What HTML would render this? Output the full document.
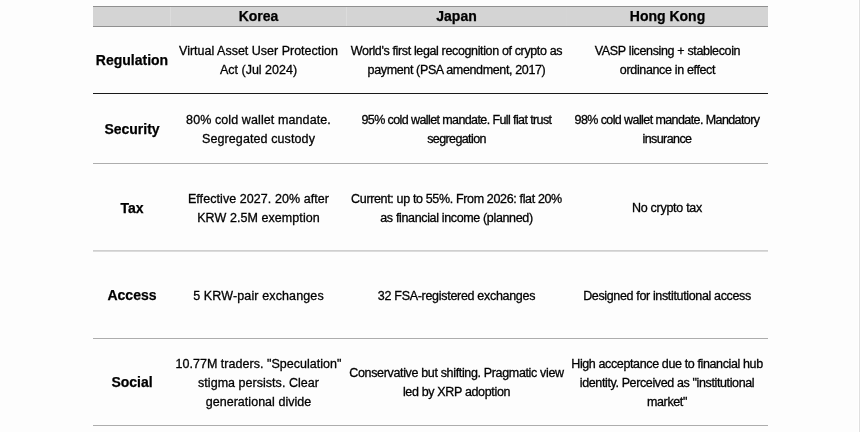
<!DOCTYPE html>
<html>
<head>
<meta charset="utf-8">
<title>Comparison</title>
<style>
html,body{margin:0;padding:0;}
body{width:860px;height:432px;background:#fdfdfd;overflow:hidden;position:relative;font-family:"Liberation Sans",Arial,Helvetica,sans-serif;color:#000;}
.edge{position:absolute;left:858px;top:0;width:1px;height:432px;background:#fff;border-right:1px solid #e0e0e0;}
.tbl{position:absolute;left:93px;top:6px;width:675px;will-change:transform;}
.row{position:absolute;left:0;width:675px;display:flex;align-items:center;box-sizing:border-box;}
.hd{top:0;height:21px;background:#d4d4d4;border-top:1px solid #909090;border-bottom:1px solid #909090;}
.c{box-sizing:border-box;text-align:center;white-space:nowrap;font-size:12.5px;line-height:19px;position:relative;top:1px;}
.c0{width:77px;font-weight:bold;font-size:14px;-webkit-text-stroke:0.25px #000;}
.r1 .c0,.r4 .c0,.r5 .c0{top:0;}
.c0,.c1,.c2{padding-left:1px;}
.c1{width:176px;}
.c1,.c2,.c3{-webkit-text-stroke:0.3px #000;}
.c2{width:220px;letter-spacing:-0.38px;}
.c3{width:202px;letter-spacing:-0.38px;}
.hd .c{padding-left:0;top:0;-webkit-text-stroke:0.25px #000;font-weight:bold;font-size:14px;letter-spacing:0;height:19px;line-height:19px;}
.hd .c1,.hd .c2{border-left:1px solid #dcdcdc;}
.hd .c3{border-left:1px solid #d5d5d5;}
.r1{top:21px;height:67px;border-bottom:1px solid #1a1a1a;}
.r2{top:88px;height:70px;border-bottom:1px solid #adadad;}
.r3{top:158px;height:88px;border-bottom:1px solid #dbdbdb;box-shadow:inset 0 -1px 0 0 #cfcfcf;}
.r4{top:246px;height:87px;border-bottom:1px solid #adadad;}
.r5{top:333px;height:87px;border-bottom:1px solid #adadad;}
.r1 .c1{letter-spacing:0px;}
.r2 .c1{letter-spacing:0.1px;}
.r3 .c1{letter-spacing:0.07px;}
.r4 .c1{letter-spacing:0.13px;}
.r5 .c1{letter-spacing:0.03px;}
.r1 .c2{letter-spacing:-0.363px;}
.r2 .c2{letter-spacing:-0.6px;}
.r3 .c2{letter-spacing:-0.35px;}
.r4 .c2{letter-spacing:-0.3px;}
.r5 .c2{letter-spacing:-0.345px;}
.r1 .c3{letter-spacing:-0.35px;padding-left:1px;}
.r2 .c3{letter-spacing:-0.59px;}
.r3 .c3{letter-spacing:-0.28px;}
.r4 .c3{letter-spacing:-0.35px;}
.r5 .c3{letter-spacing:-0.375px;}
</style>
</head>
<body>
<div class="edge"></div>
<div class="tbl">
  <div class="row hd"><div class="c c0"></div><div class="c c1">Korea</div><div class="c c2">Japan</div><div class="c c3">Hong Kong</div></div>
  <div class="row r1"><div class="c c0">Regulation</div><div class="c c1">Virtual Asset User Protection<br>Act (Jul 2024)</div><div class="c c2">World's first legal recognition of crypto as<br>payment (PSA amendment, 2017)</div><div class="c c3">VASP licensing + stablecoin<br>ordinance in effect</div></div>
  <div class="row r2"><div class="c c0">Security</div><div class="c c1">80% cold wallet mandate.<br>Segregated custody</div><div class="c c2">95% cold wallet mandate. Full fiat trust<br>segregation</div><div class="c c3">98% cold wallet mandate. Mandatory<br>insurance</div></div>
  <div class="row r3"><div class="c c0">Tax</div><div class="c c1">Effective 2027. 20% after<br>KRW 2.5M exemption</div><div class="c c2">Current: up to 55%. From 2026: flat 20%<br>as financial income (planned)</div><div class="c c3">No crypto tax</div></div>
  <div class="row r4"><div class="c c0">Access</div><div class="c c1">5 KRW-pair exchanges</div><div class="c c2">32 FSA-registered exchanges</div><div class="c c3">Designed for institutional access</div></div>
  <div class="row r5"><div class="c c0">Social</div><div class="c c1">10.77M traders. "Speculation"<br>stigma persists. Clear<br>generational divide</div><div class="c c2">Conservative but shifting. Pragmatic view<br>led by XRP adoption</div><div class="c c3">High acceptance due to financial hub<br>identity. Perceived as "institutional<br>market"</div></div>
</div>
</body>
</html>
